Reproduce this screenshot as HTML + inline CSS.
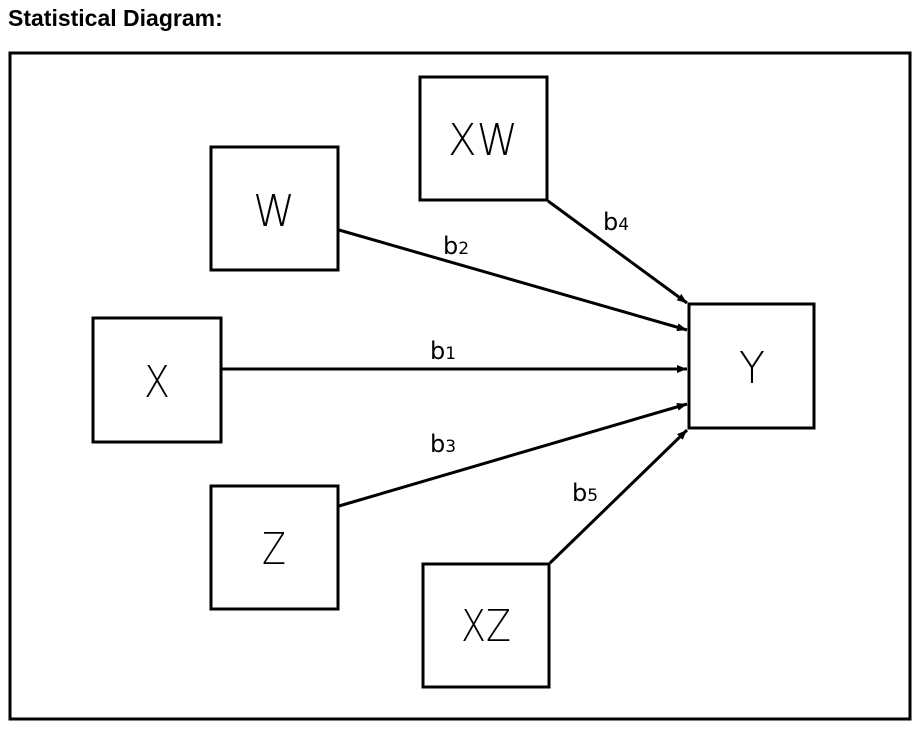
<!DOCTYPE html>
<html><head><style>
body{margin:0;background:#fff;width:916px;height:729px;overflow:hidden}
.t{position:absolute;left:8px;top:5px;font:bold 23px "Liberation Sans",sans-serif;color:#000;letter-spacing:0}
</style></head><body>
<div class="t">Statistical Diagram:</div>
<svg width="916" height="729" style="position:absolute;left:0;top:0">
<defs><marker id="a" markerWidth="10" markerHeight="8" refX="10" refY="4" orient="auto" markerUnits="userSpaceOnUse"><path d="M0,0 L10,4 L0,8 z" fill="#000"/></marker></defs>
<rect x="10" y="53" width="900" height="666" fill="none" stroke="#000" stroke-width="3"/>
<g fill="none" stroke="#000" stroke-width="3">
<rect x="420" y="77" width="127" height="123"/>
<rect x="211" y="147" width="127" height="123"/>
<rect x="93" y="318" width="128" height="124"/>
<rect x="689" y="304" width="125" height="124"/>
<rect x="211" y="486" width="127" height="123"/>
<rect x="423" y="564" width="126" height="123"/>
</g>
<g stroke="#000" stroke-width="3" marker-end="url(#a)">
<line x1="339" y1="230" x2="687" y2="330"/>
<line x1="222" y1="369" x2="687" y2="369"/>
<line x1="339" y1="506" x2="687" y2="404"/>
<line x1="548" y1="201" x2="687" y2="303"/>
<line x1="550" y1="563" x2="687" y2="430"/>
</g>
<g font-family="DejaVu Sans, Liberation Sans, sans-serif" font-size="44" font-weight="300" text-anchor="middle" fill="#000">
<text x="483" y="155" textLength="70" lengthAdjust="spacingAndGlyphs">XW</text>
<text x="274" y="226" textLength="42" lengthAdjust="spacingAndGlyphs">W</text>
<text x="157" y="397" textLength="26" lengthAdjust="spacingAndGlyphs">X</text>
<text x="752" y="383" textLength="26" lengthAdjust="spacingAndGlyphs">Y</text>
<text x="274" y="564" textLength="24" lengthAdjust="spacingAndGlyphs">Z</text>
<text x="486" y="641" textLength="50" lengthAdjust="spacingAndGlyphs">XZ</text>
</g>
<g font-family="DejaVu Sans, Liberation Sans, sans-serif" font-size="24" fill="#000">
<text x="443" y="254">b<tspan font-size="17">2</tspan></text>
<text x="603" y="230">b<tspan font-size="17">4</tspan></text>
<text x="430" y="359">b<tspan font-size="17">1</tspan></text>
<text x="430" y="452">b<tspan font-size="17">3</tspan></text>
<text x="572" y="501">b<tspan font-size="17">5</tspan></text>
</g>
</svg>
</body></html>
